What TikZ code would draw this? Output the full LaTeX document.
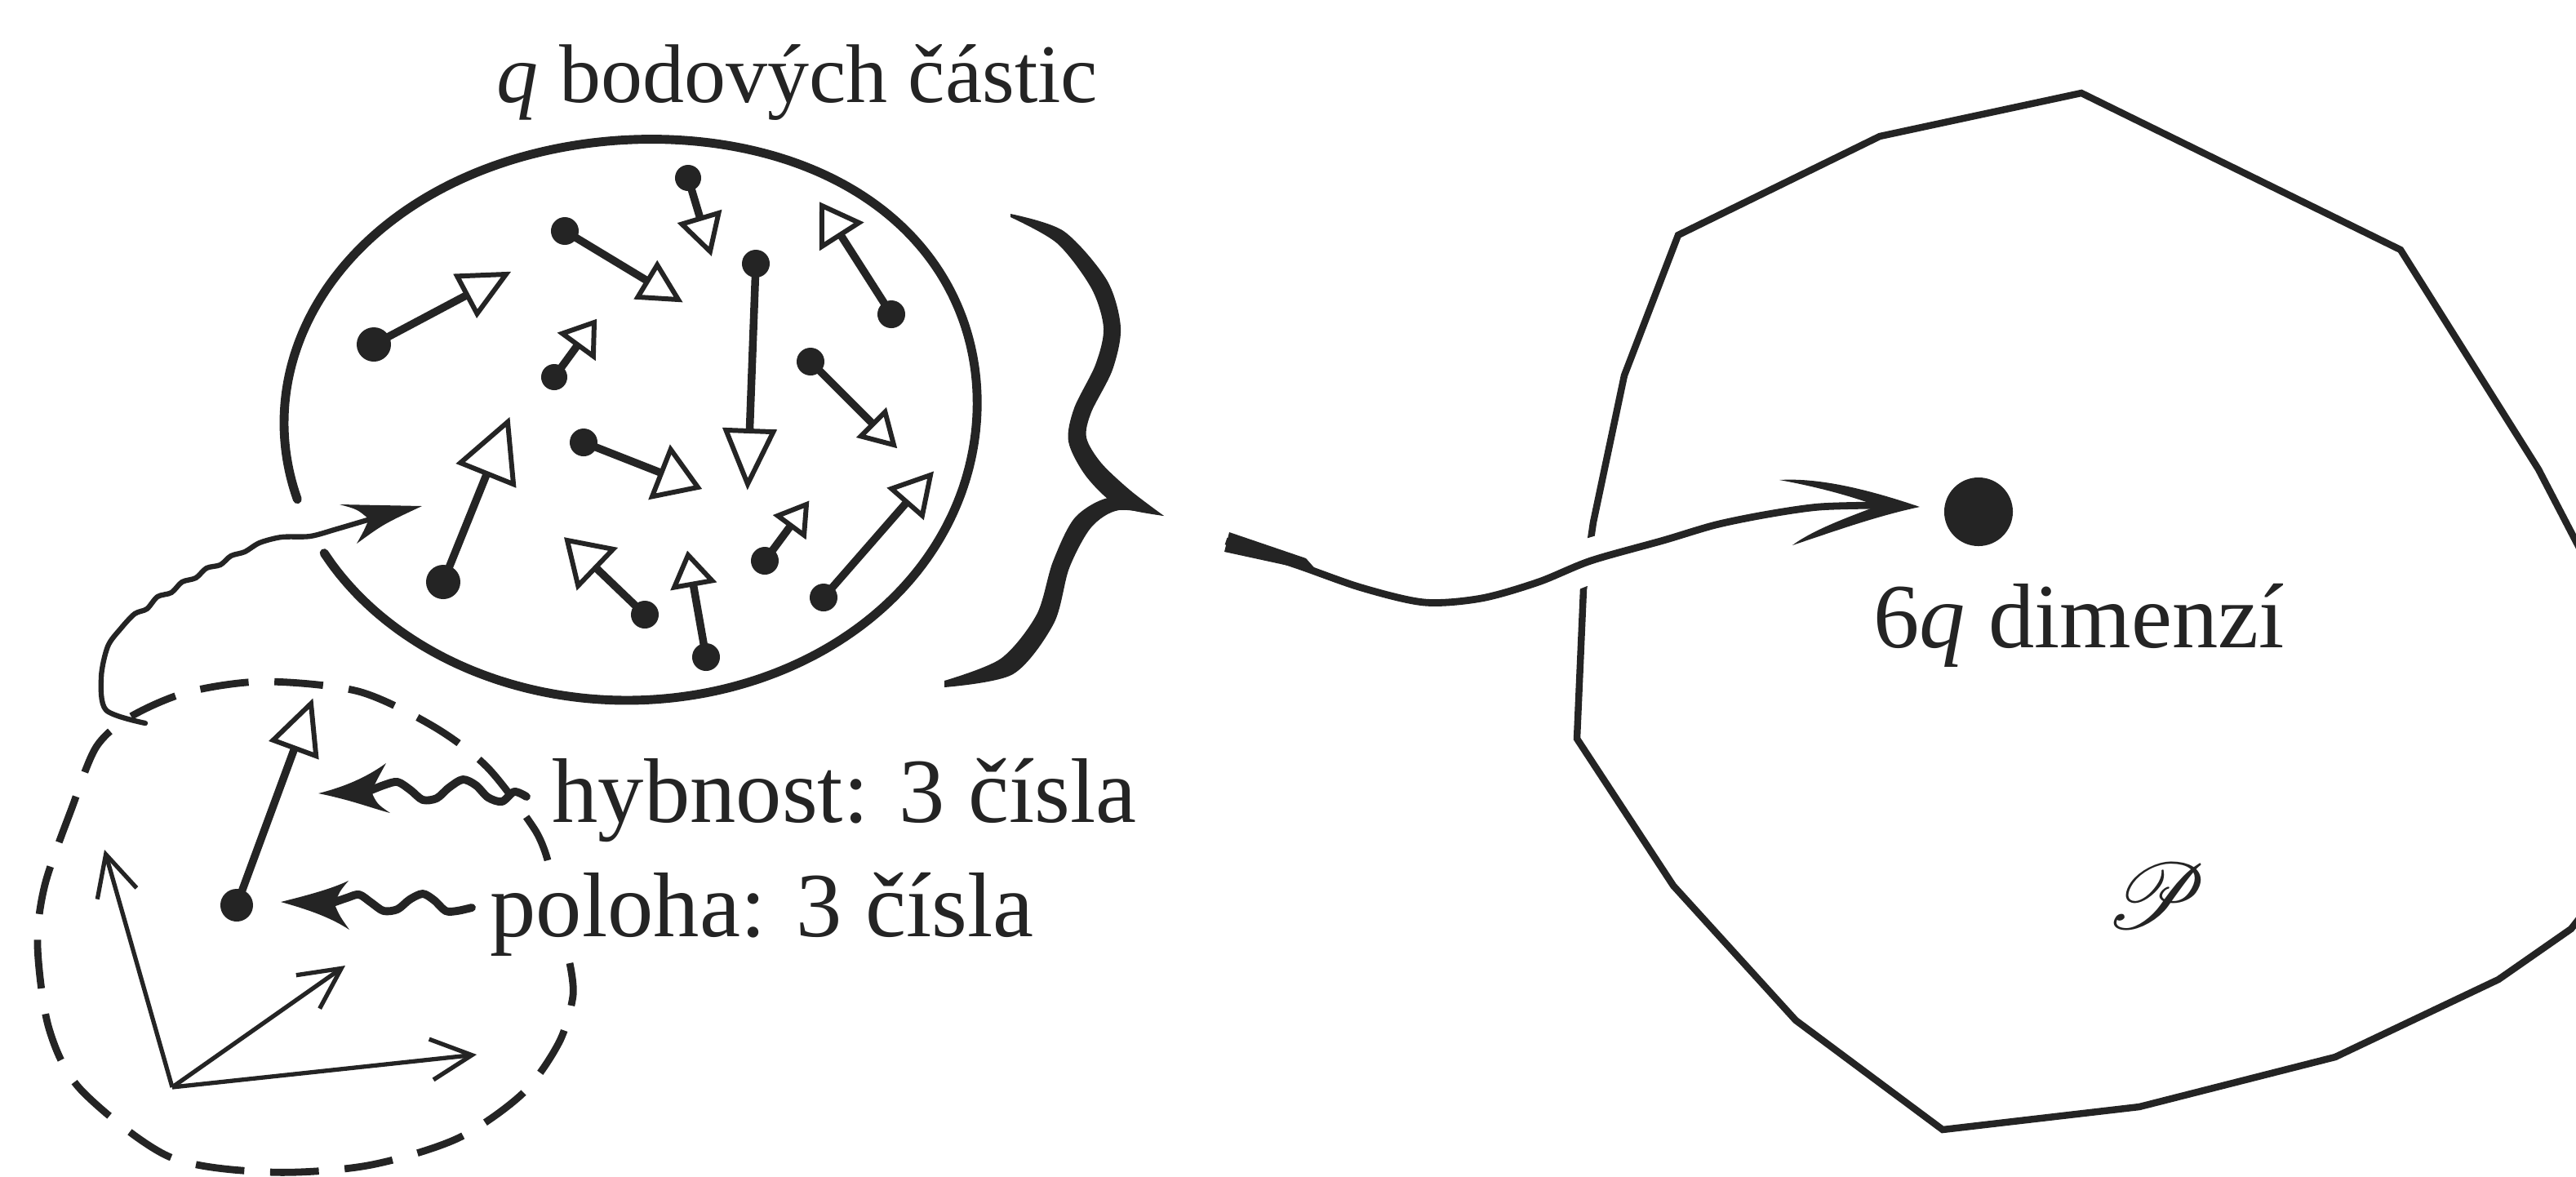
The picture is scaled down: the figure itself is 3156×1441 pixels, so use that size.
\documentclass[tikz,border=0pt]{standalone}
\usepackage{fontspec}
\setmainfont{Liberation Serif}
\usepackage{mathrsfs}
\usetikzlibrary{calc,arrows.meta}
\definecolor{ink}{HTML}{242424}
\tikzset{
  rim/.style={line width=3.1pt, line cap=round, line join=round},
  shaft/.style={line width=2.7pt},
  openhead/.style={line width=1.7pt, fill=white, line join=miter},
  particle/.style={circle, fill, inner sep=0pt, draw=none},
  dashrim/.style={line width=2.5pt, dash pattern=on 17pt off 9pt},
  axis/.style={line width=1.5pt, -{Straight Barb[length=0.5cm, width=0.5cm]}},
  squiggle/.style={line width=2.8pt, line cap=round, line join=round},
  thinsquiggle/.style={line width=1.8pt, line cap=round, line join=round},
  boundary/.style={line width=2.4pt, line join=miter},
  lbl/.style={font=\fontsize{32}{36}\selectfont, inner sep=0pt, anchor=base west},
}
\begin{document}
\begin{tikzpicture}[x=0.01cm, y=-0.01cm, color=ink]
\useasboundingbox (0,0) rectangle (3156,1441);

% ---------- phase space region P ----------
\draw[boundary] (2550,114) -- (2941,306) -- (3110,575) -- (3175,700) -- (3172,1110)
  -- (3150,1138) -- (3061,1200) -- (2861,1295) -- (2621,1356) -- (2380,1384)
  -- (2200,1250) -- (2050,1085) -- (1932,905) -- (1940,722) -- (1952,640)
  -- (1990,460) -- (2056,288) -- (2303,167) -- cycle;
\node[particle, minimum size=0.84cm] (state) at (2424,627) {};
\node[lbl] (dimlabel) at (2295,793) {6\textit{q} dimenzí};
\node[font=\fontsize{24.88}{26}\selectfont, inner sep=0pt] (space) at (2642,1098)
  {\scalebox{1.3}{$\mathscr{P}$}};

% ---------- ensemble of particles ----------
\draw[rim] plot[domain=164:512, samples=140, smooth]
  ({768+420*cos(\x)*(1+0.07*exp(-((\x-315)/40)^2))},
   {518+340*sin(\x)*(1+0.07*exp(-((\x-315)/40)^2))});
\node[lbl, font=\fontsize{29}{33}\selectfont] (title) at (608,125) {\textit{q} bodových částic};

\foreach \n/\ax/\ay/\bx/\by/\r/\hl/\hw in {
  1/458/422/620/336/21/54/52,
  2/692/283/831/367/17/44/46,
  3/843/218/870/308/16/42/47,
  4/926/323/916/593/17/65/58,
  5/1092/385/1007/252/17/42/54,
  6/679/462/728/395/16/34/47,
  7/993/443/1095/545/17/36/42,
  8/543/713/622/517/21/68/70,
  9/715/542/855/597/17/48/62,
  10/790/753/695/662/17/48/62,
  11/865/805/843/680/17/36/47,
  12/937/687/988/618/17/32/40,
  13/1009/732/1140/582/17/44/50,
  14/290/1109/381/862/20/58/56}
{
  \pgfmathsetmacro\L{\hl/100}
  \pgfmathsetmacro\W{\hw/200}
  \pgfmathsetmacro\D{\r/50}
  \coordinate (pt\n) at (\ax,\ay);
  \coordinate (ph\n) at (\bx,\by);
  \coordinate (pb\n) at ($(ph\n)!\L cm!(pt\n)$);
  \coordinate (pl\n) at ($(pb\n)!\W cm!90:(ph\n)$);
  \coordinate (pr\n) at ($(pb\n)!\W cm!-90:(ph\n)$);
  \draw[shaft] (pt\n) -- (pb\n);
  \draw[openhead] (ph\n) -- (pl\n) -- (pr\n) -- cycle;
  \node[particle, minimum size=\D cm] (pd\n) at (pt\n) {};
}

% ---------- brace ----------
\fill plot[smooth] coordinates {(1238,262) (1303,283) (1356,343) (1373,401) (1363,453)
    (1337,505) (1331,536) (1349,567) (1385,601) (1426,632)}
  -- plot[smooth] coordinates {(1426,632) (1370,620) (1331,584) (1309,541) (1316,500)
    (1342,447) (1352,402) (1337,353) (1295,298) (1238,266)} -- cycle;
\fill plot[smooth] coordinates {(1426,632) (1365,609) (1318,633) (1290,688) (1270,753)
    (1226,807) (1157,834)}
  -- plot[smooth] coordinates {(1157,842) (1241,826) (1291,764) (1310,696) (1337,646)
    (1371,625) (1426,632)} -- cycle;

% ---------- mapping into phase space ----------
\coordinate (mapstart) at (1502,663);
\coordinate (mapend) at (2300,619);
\draw[white, line width=0.55cm] plot[smooth] coordinates {(1885,713) (1949,687) (2038,662)};
\draw[line width=2.5pt] plot[smooth] coordinates {(mapstart) (1591,693) (1668,720)
  (1745,738) (1815,733) (1885,713) (1949,687) (2038,662) (2102,643) (2166,630)
  (2229,621) (mapend)};
\fill (1506,652) -- (1500,676) -- (1615,701) -- (1600,684) -- cycle;
\fill (2352,621) .. controls (2290,600) and (2230,585) .. (2180,588)
  .. controls (2230,597) and (2275,610) .. (2300,620)
  .. controls (2260,635) and (2220,650) .. (2196,668)
  .. controls (2250,650) and (2300,632) .. (2352,621) -- cycle;

% ---------- single particle and its frame ----------
\draw[dashrim] plot[smooth] coordinates {(671,1054) (655,1016) (597,940) (531,890)
  (439,847) (323,835) (230,848) (160,878) (118,915) (88,990) (55,1084) (46,1159)
  (60,1260) (99,1335) (207,1417) (330,1436) (450,1428) (560,1395) (640,1340)
  (685,1277) (702,1220) (698,1180)};

\coordinate (origin) at (211,1332);
\coordinate (ex) at (128,1041);
\coordinate (ey) at (423,1183);
\coordinate (ez) at (584,1292);
\draw[axis] (origin) -- (ex);
\draw[axis] (origin) -- (ey);
\draw[axis] (origin) -- (ez);

% the particle is one of the ensemble
\coordinate (linkstart) at (178,886);
\coordinate (linkend) at (457,635);
\draw[thinsquiggle] plot[smooth] coordinates {(linkstart) (130,870) (124,830) (132,792)
  (148,770) (165,752) (180,746) (193,731) (210,726) (223,713) (240,708) (253,696)
  (270,692) (283,681) (300,676) (318,665) (345,658) (380,657) (413,648) (linkend)};
\fill (517,620) -- (416,618) .. controls (438,624) .. (452,636)
  .. controls (446,650) .. (437,666) .. controls (470,642) .. (517,620) -- cycle;

% labels for momentum and position
\node[lbl] (momlabel) at (676,1007) {hybnost: 3 čísla};
\node[lbl] (poslabel) at (600,1147) {poloha: 3 čísla};

\coordinate (momtail) at (645,976);
\coordinate (momtip) at (390,972);
\draw[squiggle] plot[smooth] coordinates {(momtail) (630,970) (615,982) (598,977)
  (583,962) (567,955) (550,965) (535,978) (518,980) (503,968) (487,958) (470,962) (450,970)};
\fill (momtip) .. controls (430,962) and (455,948) .. (473,935)
  .. controls (462,955) .. (455,970) .. controls (462,985) .. (478,996)
  .. controls (455,990) and (430,980) .. (momtip) -- cycle;

\coordinate (postail) at (578,1112);
\coordinate (postip) at (344,1105);
\draw[squiggle] plot[smooth] coordinates {(postail) (560,1116) (546,1116) (532,1103)
  (518,1095) (502,1102) (487,1114) (470,1116) (455,1106) (440,1096) (425,1100) (405,1107)};
\fill (postip) .. controls (384,1095) and (408,1088) .. (427,1079)
  .. controls (416,1092) .. (410,1108) .. controls (416,1122) .. (428,1139)
  .. controls (408,1126) and (384,1116) .. (postip) -- cycle;
\end{tikzpicture}
\end{document}
